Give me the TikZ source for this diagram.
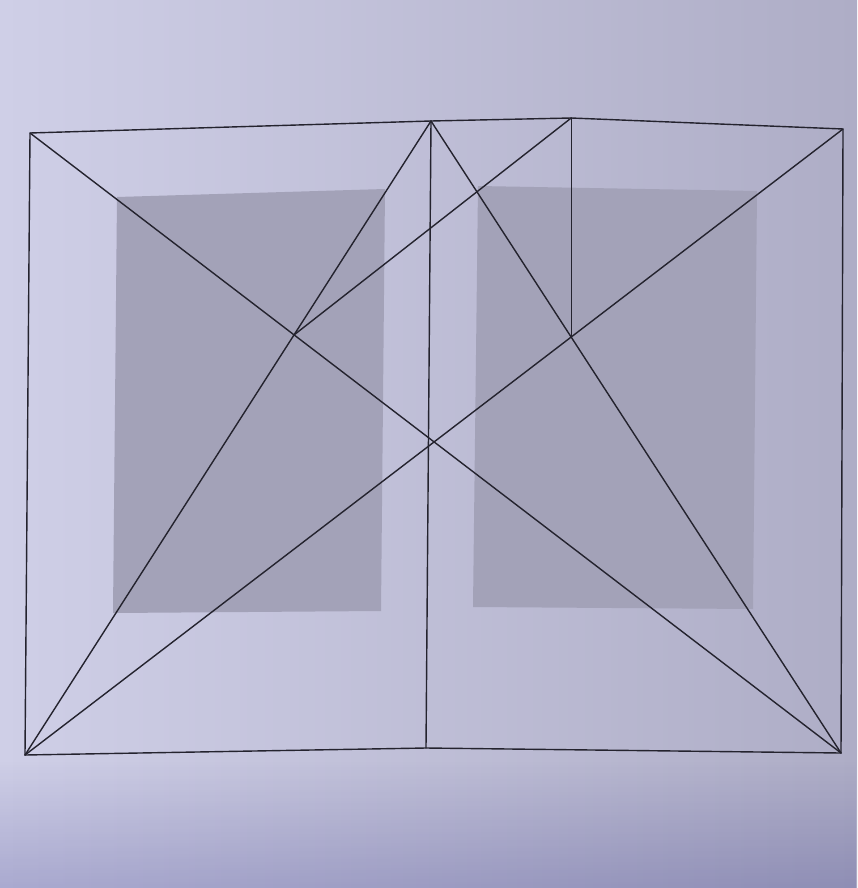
\documentclass[tikz,border=0pt]{standalone}
\usetikzlibrary{fadings}
\begin{document}
\begin{tikzpicture}[x=1pt,y=-1pt,
  rule/.style={draw=linec,line width=1.4pt,line cap=round,line join=round},
  block/.style={fill=blockc,draw=none}]
\definecolor{bgl}{HTML}{CFCFE7}
\definecolor{bgr}{HTML}{AEADC6}
\definecolor{blockc}{HTML}{A3A2B8}
\definecolor{linec}{HTML}{24232E}
\useasboundingbox (0,0) rectangle (857,888);
\shade[left color=bgl,right color=bgr] (0,0) rectangle (857,888);
\fill[black!60!blue,opacity=0.18,path fading=north] (0,760) rectangle (857,888);
% text blocks
\fill[block] (117,197) -- (385,189) -- (381,611) -- (113,613) -- cycle;
\fill[block] (478,186) -- (757,191) -- (753,609) -- (473,607) -- cycle;
% corners and points
\coordinate (TL) at (30,133);
\coordinate (ST) at (431,121);
\coordinate (TR) at (843,129);
\coordinate (BL) at (25,755);
\coordinate (SB) at (426,748);
\coordinate (BR) at (841,753);
\coordinate (L) at (intersection of TL--BR and ST--BL);
\coordinate (R) at (intersection of BL--TR and ST--BR);
\coordinate (T2) at (R |- 0,118);
% frame
\draw[rule] (TL) -- (ST) -- (T2) -- (TR) -- (BR) -- (SB) -- (BL) -- cycle;
\draw[rule] (ST) -- (SB);
% diagonals
\draw[rule] (TL) -- (BR);
\draw[rule] (BL) -- (TR);
\draw[rule] (ST) -- (BL);
\draw[rule] (ST) -- (BR);
% construction
\draw[rule] (T2) -- (R);
\draw[rule] (T2) -- (L);
\end{tikzpicture}
\end{document}
